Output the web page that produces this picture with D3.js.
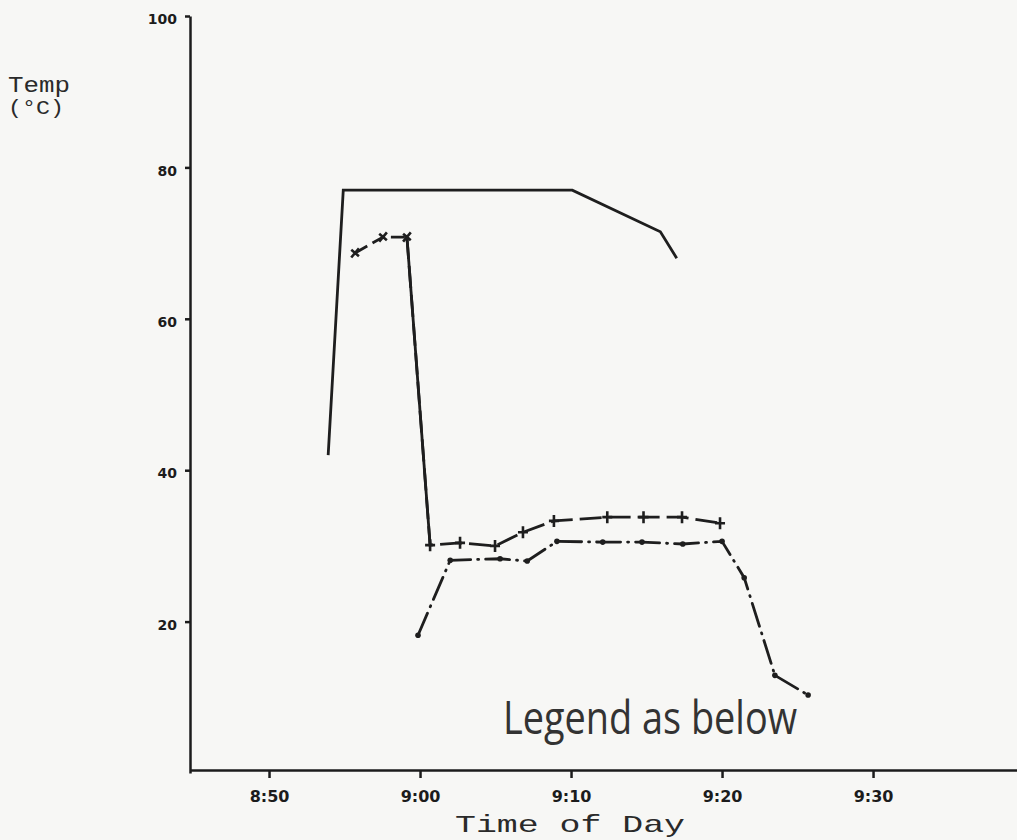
<!DOCTYPE html>
<html>
<head>
<meta charset="utf-8">
<script src="https://cdn.jsdelivr.net/npm/d3@7"></script>
<style>
  body { margin: 0; background: #f7f7f5; }
  svg { display: block; }
  .axis path, .axis line { stroke: #1c1c1c; stroke-width: 2.5; }
  .axis text { font-family: "DejaVu Sans", sans-serif; font-weight: bold; fill: #1c1c1c; }
  .mono { font-family: "Liberation Mono", "DejaVu Sans Mono", monospace; fill: #2a2a2a; }
</style>
</head>
<body>
<svg id="chart" width="1017" height="840"></svg>
<script>
// readings, time of day and temp in deg C
var timesA = ["8:53:55", "8:54:55", "9:10:05", "9:15:55", "9:17:00"],
    tempsA = [42, 77, 77, 71.5, 68];

var timesB = ["8:55:42", "8:57:33", "8:59:08", "9:00:40", "9:02:39", "9:04:58",
              "9:06:49", "9:08:52", "9:12:24", "9:14:48", "9:17:21", "9:19:52"],
    tempsB = [68.7, 70.8, 70.8, 30.1, 30.4, 30.0, 31.8, 33.3, 33.8, 33.8, 33.8, 33.0];

var timesC = ["8:59:52", "9:02:00", "9:05:18", "9:07:06", "9:09:04", "9:12:06",
              "9:14:42", "9:17:24", "9:20:00", "9:21:28", "9:23:30", "9:25:42"],
    tempsC = [18.2, 28.1, 28.3, 28.0, 30.6, 30.5, 30.5, 30.25, 30.6, 25.8, 12.9, 10.3];

var xTicks = ["8:50:00", "9:00:00", "9:10:00", "9:20:00", "9:30:00"],
    yTicks = [20, 40, 60, 80, 100];

var parse = d3.timeParse("%H:%M:%S");

function zip(ts, vs) {
  return ts.map(function(t, i) { return {t: parse(t), v: vs[i]}; });
}
var A = zip(timesA, tempsA), B = zip(timesB, tempsB), C = zip(timesC, tempsC);

var svg = d3.select("#chart");

var x = d3.scaleTime()
    .domain([parse("8:44:46"), parse("9:39:32")])
    .range([190, 1017]);
var y = d3.scaleLinear().domain([0, 100]).range([773, 16]);

var line = d3.line()
    .x(function(d) { return x(d.t); })
    .y(function(d) { return y(d.v); });

// axes
svg.append("g")
    .attr("class", "axis")
    .attr("transform", "translate(0,770)")
    .call(d3.axisBottom(x)
      .tickValues(xTicks.map(parse))
      .tickFormat(d3.timeFormat("%-H:%M"))
      .tickSize(8).tickSizeOuter(0).tickPadding(13))
    .selectAll("text").style("font-size", "16px");

svg.append("g")
    .attr("class", "axis")
    .attr("transform", "translate(190,0)")
    .call(d3.axisLeft(y)
      .tickValues(yTicks)
      .tickSize(5).tickSizeOuter(0).tickPadding(8))
    .selectAll("text").style("font-size", "14px").attr("dy", "0.55em");

// solid series
svg.append("path")
    .datum(A)
    .attr("d", line)
    .attr("fill", "none")
    .attr("stroke", "#1e1e1e")
    .attr("stroke-width", 2.8);

// dashed series with crosses; the drop is drawn solid
svg.append("path")
    .datum(B.slice(2))
    .attr("d", line)
    .attr("fill", "none")
    .attr("stroke", "#1e1e1e")
    .attr("stroke-width", 2.8)
    .attr("stroke-dasharray", "22,7");
svg.append("path")
    .datum(B.slice(0, 3))
    .attr("d", line)
    .attr("fill", "none")
    .attr("stroke", "#1e1e1e")
    .attr("stroke-width", 2.8)
    .attr("stroke-dasharray", "14,6");
svg.append("path")
    .datum(B.slice(2, 4))
    .attr("d", line)
    .attr("fill", "none")
    .attr("stroke", "#1e1e1e")
    .attr("stroke-width", 2.8);

svg.selectAll(".cross")
    .data(B)
    .enter().append("path")
    .attr("class", "cross")
    .attr("transform", function(d, i) {
      return "translate(" + x(d.t) + "," + y(d.v) + ") rotate(" + (i < 3 ? 40 : 0) + ")";
    })
    .attr("d", "M-5,0H5M0,-6V6")
    .attr("stroke", "#1e1e1e")
    .attr("stroke-width", 2.6);

// dash-dot series
svg.append("path")
    .datum(C)
    .attr("d", line)
    .attr("fill", "none")
    .attr("stroke", "#1e1e1e")
    .attr("stroke-width", 2.8)
    .attr("stroke-linecap", "round")
    .attr("stroke-dasharray", "24,7,1,7");

svg.selectAll(".dot")
    .data(C)
    .enter().append("circle")
    .attr("class", "dot")
    .attr("cx", function(d) { return x(d.t); })
    .attr("cy", function(d) { return y(d.v); })
    .attr("r", 2.8)
    .attr("fill", "#1e1e1e");

// labels
svg.append("text").attr("class", "mono")
    .attr("x", 8).attr("y", 92)
    .attr("font-size", 22)
    .attr("textLength", 62).attr("lengthAdjust", "spacingAndGlyphs")
    .text("Temp");
svg.append("text").attr("class", "mono")
    .attr("x", 8).attr("y", 114)
    .attr("font-size", 20)
    .attr("textLength", 56).attr("lengthAdjust", "spacingAndGlyphs")
    .text("(°C)");

svg.append("text").attr("class", "mono")
    .attr("x", 455).attr("y", 832)
    .attr("font-size", 24)
    .attr("textLength", 230).attr("lengthAdjust", "spacingAndGlyphs")
    .text("Time of Day");

svg.append("text")
    .attr("x", 503).attr("y", 734)
    .attr("font-family", "'Open Sans', sans-serif")
    .attr("font-size", 46)
    .attr("fill", "#333")
    .attr("textLength", 294).attr("lengthAdjust", "spacingAndGlyphs")
    .text("Legend as below");
</script>
</body>
</html>
